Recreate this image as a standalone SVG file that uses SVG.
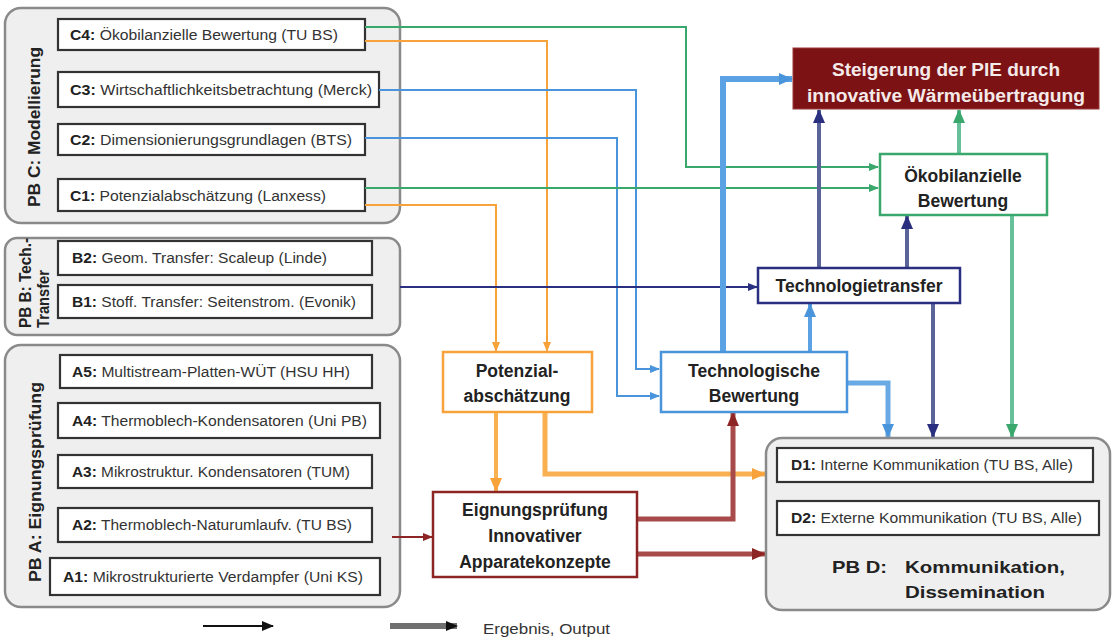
<svg xmlns="http://www.w3.org/2000/svg" width="1114" height="638" viewBox="0 0 1114 638">
<defs>
<style>
.panel{fill:#efefef;stroke:#8a8a8a;stroke-width:2.5}
.box{fill:#fff;stroke:#333;stroke-width:2.2}
.t{font-family:"Liberation Sans",Arial,sans-serif;font-size:14px;fill:#333}
.t tspan.b{font-weight:bold;fill:#222}
.lbl{font-family:"Liberation Sans",Arial,sans-serif;font-size:17px;font-weight:bold;fill:#222}
.nd{font-family:"Liberation Sans",Arial,sans-serif;font-size:17.5px;font-weight:bold;fill:#222;text-anchor:middle}
.c{fill:none;stroke-linejoin:miter}
.g{stroke:#3aa86c;stroke-width:2}
.o{stroke:#f7a23a;stroke-width:2}
.bl{stroke:#4a94dc;stroke-width:2}
.nv{stroke:#2a2f80;stroke-width:2}
.rd{stroke:#8e2525;stroke-width:2}
</style>
<marker id="aG" markerUnits="userSpaceOnUse" markerWidth="10" markerHeight="10" refX="9" refY="5" orient="auto"><path d="M0,1 L10,5 L0,9 Z" fill="#3aa86c"/></marker>
<marker id="aO" markerUnits="userSpaceOnUse" markerWidth="10" markerHeight="10" refX="9" refY="5" orient="auto"><path d="M0,1 L10,5 L0,9 Z" fill="#f7a23a"/></marker>
<marker id="aB" markerUnits="userSpaceOnUse" markerWidth="10" markerHeight="10" refX="9" refY="5" orient="auto"><path d="M0,1 L10,5 L0,9 Z" fill="#4a94dc"/></marker>
<marker id="aN" markerUnits="userSpaceOnUse" markerWidth="10" markerHeight="10" refX="9" refY="5" orient="auto"><path d="M0,1 L10,5 L0,9 Z" fill="#2a2f80"/></marker>
<marker id="aR" markerUnits="userSpaceOnUse" markerWidth="10" markerHeight="10" refX="9" refY="5" orient="auto"><path d="M0,1 L10,5 L0,9 Z" fill="#8e2525"/></marker>
<marker id="aK" markerUnits="userSpaceOnUse" markerWidth="12" markerHeight="12" refX="11" refY="6" orient="auto"><path d="M0,1 L12,6 L0,11 Z" fill="#111"/></marker>
<marker id="aBT" markerUnits="userSpaceOnUse" markerWidth="14" markerHeight="14" refX="13" refY="7" orient="auto"><path d="M0,1 L14,7 L0,13 Z" fill="#4a94dc"/></marker>
<marker id="aNT" markerUnits="userSpaceOnUse" markerWidth="14" markerHeight="14" refX="13" refY="7" orient="auto"><path d="M0,1 L14,7 L0,13 Z" fill="#2a2f80"/></marker>
<marker id="aGT" markerUnits="userSpaceOnUse" markerWidth="14" markerHeight="14" refX="13" refY="7" orient="auto"><path d="M0,1 L14,7 L0,13 Z" fill="#3aa86c"/></marker>
<marker id="aOT" markerUnits="userSpaceOnUse" markerWidth="14" markerHeight="14" refX="13" refY="7" orient="auto"><path d="M0,1 L14,7 L0,13 Z" fill="#f7a23a"/></marker>
<marker id="aRT" markerUnits="userSpaceOnUse" markerWidth="14" markerHeight="14" refX="13" refY="7" orient="auto"><path d="M0,1 L14,7 L0,13 Z" fill="#8e2525"/></marker>
</defs>
<rect width="1114" height="638" fill="#fff"/>

<g id="pbC">
<rect class="panel" x="5" y="8" width="395" height="215" rx="16"/>
<text class="lbl" transform="translate(40,127) rotate(-90)" text-anchor="middle" textLength="160" lengthAdjust="spacingAndGlyphs">PB C: Modellierung</text>
<g id="C4"><rect class="box" x="58" y="19" width="307" height="31"/><text class="t" x="70" y="40" textLength="268" lengthAdjust="spacingAndGlyphs"><tspan class="b">C4:</tspan> Ökobilanzielle Bewertung (TU BS)</text></g>
<g id="C3"><rect class="box" x="58" y="72" width="321" height="35"/><text class="t" x="70" y="95" textLength="302" lengthAdjust="spacingAndGlyphs"><tspan class="b">C3:</tspan> Wirtschaftlichkeitsbetrachtung (Merck)</text></g>
<g id="C2"><rect class="box" x="58" y="124" width="307" height="31"/><text class="t" x="70" y="145" textLength="282" lengthAdjust="spacingAndGlyphs"><tspan class="b">C2:</tspan> Dimensionierungsgrundlagen (BTS)</text></g>
<g id="C1"><rect class="box" x="58" y="179" width="307" height="32"/><text class="t" x="70" y="201" textLength="256" lengthAdjust="spacingAndGlyphs"><tspan class="b">C1:</tspan> Potenzialabschätzung (Lanxess)</text></g>
</g>

<g id="pbB">
<rect class="panel" x="5" y="238" width="395" height="97" rx="12"/>
<text class="lbl" transform="translate(31,328) rotate(-90)" font-size="15" textLength="90" lengthAdjust="spacingAndGlyphs">PB B: Tech.-</text>
<text class="lbl" transform="translate(49,328) rotate(-90)" font-size="15" textLength="58" lengthAdjust="spacingAndGlyphs">Transfer</text>
<g id="B2"><rect class="box" x="58" y="241" width="314" height="34"/><text class="t" x="72" y="263" textLength="255" lengthAdjust="spacingAndGlyphs"><tspan class="b">B2:</tspan> Geom. Transfer: Scaleup (Linde)</text></g>
<g id="B1"><rect class="box" x="58" y="285" width="314" height="33"/><text class="t" x="72" y="307" textLength="284" lengthAdjust="spacingAndGlyphs"><tspan class="b">B1:</tspan> Stoff. Transfer: Seitenstrom. (Evonik)</text></g>
</g>

<g id="pbA">
<rect class="panel" x="5" y="345" width="395" height="262" rx="16"/>
<text class="lbl" transform="translate(41,482) rotate(-90)" text-anchor="middle" textLength="200" lengthAdjust="spacingAndGlyphs">PB A:  Eignungsprüfung</text>
<g id="A5"><rect class="box" x="60" y="355" width="312" height="33"/><text class="t" x="72" y="377" textLength="278" lengthAdjust="spacingAndGlyphs"><tspan class="b">A5:</tspan> Multistream-Platten-WÜT (HSU HH)</text></g>
<g id="A4"><rect class="box" x="58" y="403" width="322" height="35"/><text class="t" x="72" y="426" textLength="295" lengthAdjust="spacingAndGlyphs"><tspan class="b">A4:</tspan> Thermoblech-Kondensatoren (Uni PB)</text></g>
<g id="A3"><rect class="box" x="58" y="455" width="314" height="33"/><text class="t" x="72" y="477" textLength="278" lengthAdjust="spacingAndGlyphs"><tspan class="b">A3:</tspan> Mikrostruktur.  Kondensatoren (TUM)</text></g>
<g id="A2"><rect class="box" x="58" y="508" width="314" height="34"/><text class="t" x="72" y="530" textLength="280" lengthAdjust="spacingAndGlyphs"><tspan class="b">A2:</tspan> Thermoblech-Naturumlaufv. (TU BS)</text></g>
<g id="A1"><rect class="box" x="50" y="558" width="330" height="37"/><text class="t" x="63" y="582" textLength="300" lengthAdjust="spacingAndGlyphs"><tspan class="b">A1:</tspan> Mikrostrukturierte Verdampfer (Uni KS)</text></g>
</g>

<g id="connectors">
<path class="c g" d="M365,27 H686 V167 H878" marker-end="url(#aG)"/>
<path class="c o" d="M365,41 H547 V351" marker-end="url(#aO)"/>
<path class="c bl" d="M379,90 H636 V369 H659" marker-end="url(#aB)"/>
<path class="c bl" d="M365,138 H617 V396 H659" marker-end="url(#aB)"/>
<path class="c g" d="M365,188 H878" marker-end="url(#aG)"/>
<path class="c o" d="M365,205 H496 V351" marker-end="url(#aO)"/>
<path class="c nv" d="M400,287 H757" marker-end="url(#aN)"/>
<path class="c" stroke="#5aa2e4" stroke-width="6" d="M723,352 V79 H792" marker-end="url(#aBT)"/>
<path class="c" stroke="#5aa2e4" stroke-width="4" d="M810,352 V304" marker-end="url(#aBT)"/>
<path class="c" stroke="#5a6498" stroke-width="4" d="M819,268 V110" marker-end="url(#aNT)"/>
<path class="c" stroke="#5a6498" stroke-width="4" d="M907,268 V216" marker-end="url(#aNT)"/>
<path class="c" stroke="#5a6498" stroke-width="4" d="M933,303 V437" marker-end="url(#aNT)"/>
<path class="c" stroke="#6aaae4" stroke-width="5" d="M847,383 H888 V437" marker-end="url(#aBT)"/>
<path class="c" stroke="#66c09a" stroke-width="4" d="M1012,215 V437" marker-end="url(#aGT)"/>
<path class="c" stroke="#66c09a" stroke-width="4" d="M959,154 V110" marker-end="url(#aGT)"/>
<path class="c" stroke="#f8b050" stroke-width="4" d="M496,412 V491" marker-end="url(#aOT)"/>
<path class="c" stroke="#f8b050" stroke-width="5" d="M545,412 V474 H765" marker-end="url(#aOT)"/>
<path class="c" stroke="#a84a4a" stroke-width="5" d="M637,519 H733 V413" marker-end="url(#aRT)"/>
<path class="c" stroke="#a84a4a" stroke-width="5" d="M637,554 H765" marker-end="url(#aRT)"/>
<path class="c rd" d="M392,537 H432" marker-end="url(#aR)"/>
</g>

<g id="steigerung">
<rect x="793" y="48" width="306" height="61" fill="#7d1214" stroke="#9a3a3a" stroke-width="1"/>
<text class="nd" x="946" y="76" style="fill:#f4eaea" font-size="20" textLength="228" lengthAdjust="spacingAndGlyphs">Steigerung der PIE durch</text>
<text class="nd" x="946" y="102" style="fill:#f4eaea" font-size="20" textLength="278" lengthAdjust="spacingAndGlyphs">innovative Wärmeübertragung</text>
</g>

<g id="oeko">
<rect x="880" y="154" width="167" height="61" fill="#fff" stroke="#3aa86c" stroke-width="2.5"/>
<text class="nd" x="963" y="182">Ökobilanzielle</text>
<text class="nd" x="963" y="207">Bewertung</text>
</g>

<g id="techtransfer">
<rect x="758" y="268" width="202" height="35" fill="#fff" stroke="#2a2f80" stroke-width="2.5"/>
<text class="nd" x="859" y="292">Technologietransfer</text>
</g>

<g id="techbew">
<rect x="661" y="352" width="186" height="60" fill="#fff" stroke="#4a94dc" stroke-width="2.5"/>
<text class="nd" x="754" y="377">Technologische</text>
<text class="nd" x="754" y="402">Bewertung</text>
</g>

<g id="potenzial">
<rect x="443" y="352" width="149" height="60" fill="#fff" stroke="#f7a23a" stroke-width="2.5"/>
<text class="nd" x="517" y="377">Potenzial-</text>
<text class="nd" x="517" y="402">abschätzung</text>
</g>

<g id="eignung">
<rect x="433" y="492" width="204" height="85" fill="#fff" stroke="#8e2525" stroke-width="2.5"/>
<text class="nd" x="535" y="516">Eignungsprüfung</text>
<text class="nd" x="535" y="542">Innovativer</text>
<text class="nd" x="535" y="568">Apparatekonzepte</text>
</g>

<g id="pbD">
<rect class="panel" x="766" y="438" width="344" height="172" rx="16"/>
<g id="D1"><rect class="box" x="777" y="448" width="316" height="34"/><text class="t" x="791" y="470" font-size="13.5" textLength="282" lengthAdjust="spacingAndGlyphs"><tspan class="b">D1:</tspan> Interne Kommunikation (TU BS, Alle)</text></g>
<g id="D2"><rect class="box" x="777" y="501" width="322" height="34"/><text class="t" x="791" y="523" font-size="13.5" textLength="291" lengthAdjust="spacingAndGlyphs"><tspan class="b">D2:</tspan> Externe Kommunikation (TU BS, Alle)</text></g>
<text class="lbl" x="832" y="573" font-size="20" textLength="55" lengthAdjust="spacingAndGlyphs">PB D:</text>
<text class="lbl" x="905" y="573" font-size="20" textLength="160" lengthAdjust="spacingAndGlyphs">Kommunikation,</text>
<text class="lbl" x="905" y="598" font-size="20" textLength="140" lengthAdjust="spacingAndGlyphs">Dissemination</text>
</g>

<g id="legend">
<path d="M203,626 H273" stroke="#111" stroke-width="2" fill="none" marker-end="url(#aK)"/>
<path d="M390,626 H457" stroke="#707070" stroke-width="6" fill="none" marker-end="url(#aK)"/>
<text class="t" x="483" y="634" font-size="16" textLength="127" lengthAdjust="spacingAndGlyphs">Ergebnis, Output</text>
</g>
</svg>
